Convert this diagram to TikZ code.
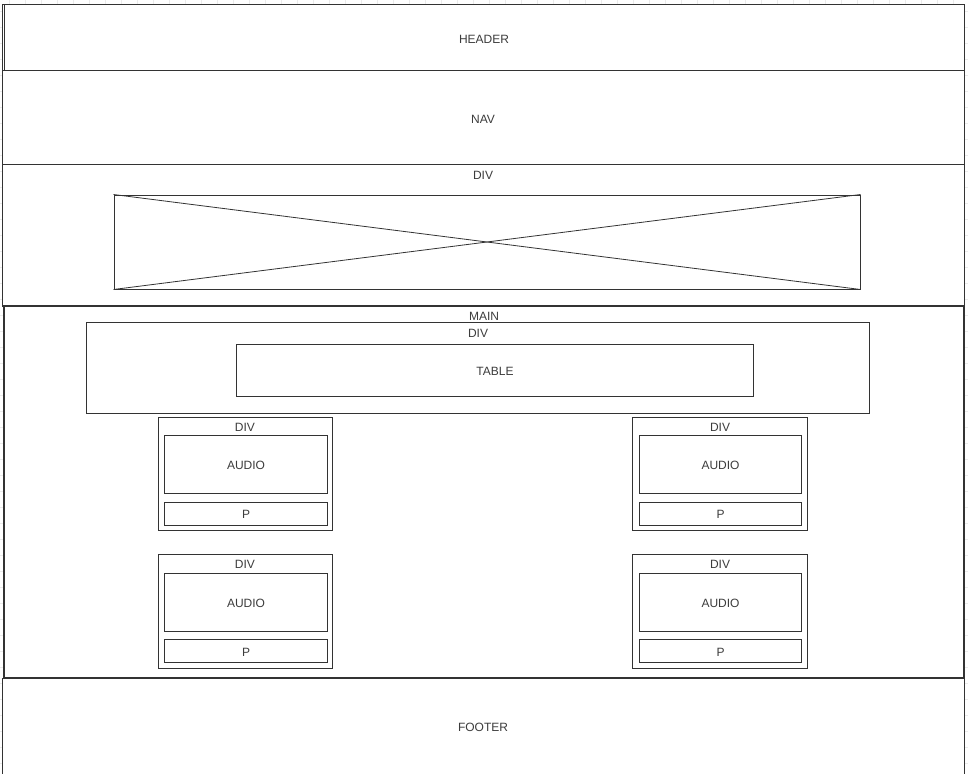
\documentclass[tikz,border=0pt]{standalone}
\usepackage{fontspec}
\setmainfont{Liberation Sans}
\usetikzlibrary{fit}
\definecolor{ln}{HTML}{333333}
\definecolor{tx}{HTML}{3C3C3C}
\definecolor{gridc}{HTML}{EBEBEB}
\begin{document}
\begin{tikzpicture}[x=0.75pt,y=-0.75pt,
  box/.style={draw=ln,fill=white,line width=0.75pt,inner sep=0pt},
  thickbox/.style={draw=ln,fill=white,line width=1.6pt,inner sep=0pt},
  lbl/.style={text=tx,font=\fontsize{9}{10}\selectfont,inner sep=0pt,yshift=-0.75pt}]
\useasboundingbox (0,0) rectangle (968,774);
\fill[white] (0,0) rectangle (968,774);
% faint background grid
\foreach \gx in {0,...,60} {\draw[gridc,line width=0.4pt] (9.3+16*\gx,0) -- (9.3+16*\gx,774);}
\foreach \gy in {0,...,48} {\draw[gridc,line width=0.4pt] (0,11.5+16*\gy) -- (968,11.5+16*\gy);}
% header
\node[box,fit={(2.7,4.3)(964.3,71)}] (header) {};
\draw[ln,line width=0.75pt] (4.4,4.3) -- (4.4,71);
\node[lbl] (headert) at (484,38) {HEADER};
% nav
\node[box,fit={(2.7,71)(964.3,164.3)}] (nav) {};
\node[lbl] (navt) at (483,118) {NAV};
% div with image
\node[box,fit={(2.7,164.3)(964.3,306)}] (divimg) {};
\node[lbl] (divimgt) at (483,174) {DIV};
\node[box,fit={(114,195)(860,289)}] (img) {};
\draw[ln,line width=0.6pt] (img.north west) -- (img.south east);
\draw[ln,line width=0.6pt] (img.south west) -- (img.north east);
% footer
\node[box,fit={(2.7,678)(964.3,780)}] (footer) {};
\node[lbl] (footert) at (483,726) {FOOTER};
% main
\node[thickbox,fit={(3.6,306)(964.3,678)}] (main) {};
\node[lbl] (maint) at (484,315) {MAIN};
% div with table
\node[box,fit={(86.3,322.3)(869.3,413.3)}] (divtab) {};
\node[lbl] (divtabt) at (478,332) {DIV};
\node[box,fit={(236,344)(753.5,396.5)}] (table) {};
\node[lbl] (tablet) at (495,370) {TABLE};
% audio divs
\foreach \nm/\xa/\xb/\ia/\ib/\cx/\ya/\yb/\aa/\ab/\pa/\pb in
  {a/158.3/332.3/164.3/327.7/245/417/530/435/493/502/525,
   b/632.3/807.3/639.3/801.7/720/417/530/435/493/502/525,
   c/158.3/332.3/164.3/327.7/245/554.3/668.3/573.3/631/639.3/662.7,
   d/632.3/807.3/639.3/801.7/720/554.3/668.3/573.3/631/639.3/662.7} {
  \node[box,fit={(\xa,\ya)(\xb,\yb)}] (div\nm) {};
  \node[lbl] (div\nm t) at (\cx,\ya+9.5) {DIV};
  \node[box,fit={(\ia,\aa)(\ib,\ab)}] (audio\nm) {};
  \node[lbl] (audio\nm t) at (audio\nm.center) {AUDIO};
  \node[box,fit={(\ia,\pa)(\ib,\pb)}] (p\nm) {};
  \node[lbl] (p\nm t) at (p\nm.center) {P};
}
\end{tikzpicture}
\end{document}
